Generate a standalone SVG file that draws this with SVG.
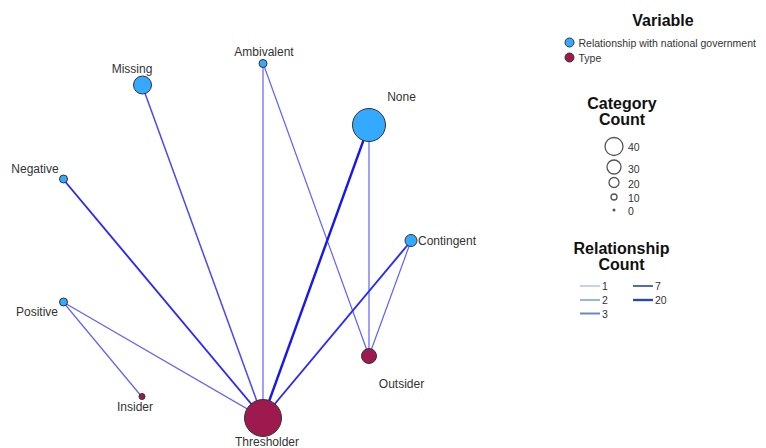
<svg xmlns="http://www.w3.org/2000/svg" width="766" height="448" viewBox="0 0 766 448">
<style>
text{font-family:"Liberation Sans",Arial,sans-serif;fill:#333}
.lbl{font-size:12px}
.leg{font-size:10.5px}
.title{font-size:16px;font-weight:bold;fill:#111;text-anchor:middle}
.rel{fill:#33aaff;stroke:#333;stroke-width:1}
.typ{fill:#9e1a4e;stroke:#333;stroke-width:1}
.e1{stroke:#6060ff;stroke-width:1.2}
.e2{stroke:#4848ff;stroke-width:1.5}
.e3{stroke:#2a2aff;stroke-width:1.9}
.e4{stroke:#1818ee;stroke-width:2.4}
.cc{fill:#fff;stroke:#555;stroke-width:1.3}
</style>
<rect width="766" height="448" fill="#fff"/>
<g id="connectors" fill="none">
<line class="e2" x1="142" y1="85" x2="263" y2="418"/>
<line class="e1" x1="263" y1="63" x2="263" y2="418"/>
<line class="e1" x1="263" y1="63" x2="369" y2="356"/>
<line class="e3" x1="63" y1="179" x2="263" y2="418"/>
<line class="e4" x1="369" y1="125" x2="263" y2="418"/>
<line class="e1" x1="369" y1="125" x2="369" y2="356"/>
<line class="e3" x1="411" y1="241" x2="263" y2="418"/>
<line class="e1" x1="411" y1="241" x2="369" y2="356"/>
<line class="e1" x1="63" y1="302" x2="263" y2="418"/>
<line class="e1" x1="63" y1="302" x2="142" y2="397"/>
</g>
<g id="node-missing"><circle class="rel" cx="142.5" cy="85" r="9"/><text class="lbl" x="132" y="73" text-anchor="middle">Missing</text></g>
<g id="node-ambivalent"><circle class="rel" cx="263" cy="63.5" r="4"/><text class="lbl" x="264" y="56" text-anchor="middle">Ambivalent</text></g>
<g id="node-negative"><circle class="rel" cx="63.5" cy="179" r="4"/><text class="lbl" x="35" y="173" text-anchor="middle">Negative</text></g>
<g id="node-none"><circle class="rel" cx="369" cy="125" r="16.5"/><text class="lbl" x="401.5" y="101" text-anchor="middle">None</text></g>
<g id="node-contingent"><circle class="rel" cx="411" cy="240.5" r="6"/><text class="lbl" x="418" y="245">Contingent</text></g>
<g id="node-positive"><circle class="rel" cx="63.5" cy="302" r="4"/><text class="lbl" x="37" y="316" text-anchor="middle">Positive</text></g>
<g id="node-outsider"><circle class="typ" cx="369" cy="356" r="7.5"/><text class="lbl" x="401.5" y="388" text-anchor="middle">Outsider</text></g>
<g id="node-insider"><circle class="typ" cx="142" cy="396.5" r="3"/><text class="lbl" x="135" y="411" text-anchor="middle">Insider</text></g>
<g id="node-thresholder"><circle class="typ" cx="263" cy="418" r="18.5"/><text class="lbl" x="267" y="446" text-anchor="middle">Thresholder</text></g>
<g id="legend-variable">
<text class="title" x="663" y="26">Variable</text>
<circle class="rel" cx="569.5" cy="42.5" r="4.5"/>
<text class="leg" x="578.5" y="46.5">Relationship with national government</text>
<circle class="typ" cx="569.5" cy="57.5" r="4.5"/>
<text class="leg" x="578.5" y="61.5">Type</text>
</g>
<g id="legend-category">
<text class="title" x="622" y="109">Category</text>
<text class="title" x="622" y="125">Count</text>
<circle class="cc" cx="614" cy="146.5" r="9"/><text class="leg" x="628" y="150.5">40</text>
<circle class="cc" cx="614" cy="167" r="7"/><text class="leg" x="628" y="173">30</text>
<circle class="cc" cx="614" cy="182.5" r="5"/><text class="leg" x="628" y="188">20</text>
<circle class="cc" cx="614" cy="197" r="3"/><text class="leg" x="628" y="202">10</text>
<circle cx="614" cy="210" r="1.5" fill="#555"/><text class="leg" x="628" y="214.5">0</text>
</g>
<g id="legend-relationship">
<text class="title" x="621.5" y="254">Relationship</text>
<text class="title" x="621.5" y="270">Count</text>
<line x1="580" y1="286" x2="600" y2="286" stroke="#b4c3e6" stroke-width="1.5"/><text class="leg" x="602" y="290">1</text>
<line x1="580" y1="300" x2="600" y2="300" stroke="#93a9dc" stroke-width="1.8"/><text class="leg" x="602" y="304">2</text>
<line x1="580" y1="313.5" x2="600" y2="313.5" stroke="#6a86c8" stroke-width="2"/><text class="leg" x="602" y="317.5">3</text>
<line x1="633" y1="286" x2="653" y2="286" stroke="#4e6cba" stroke-width="2"/><text class="leg" x="655" y="290">7</text>
<line x1="633" y1="300" x2="653" y2="300" stroke="#2a4aa6" stroke-width="2.4"/><text class="leg" x="655" y="304">20</text>
</g>
</svg>
